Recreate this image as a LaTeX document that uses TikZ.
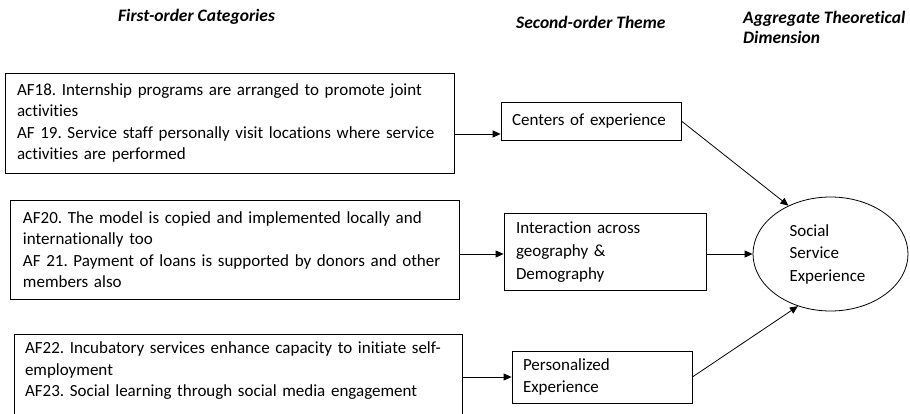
\documentclass[tikz,border=0pt]{standalone}
\usepackage{fontspec}
\setmainfont{Carlito}[Ligatures={NoCommon,NoContextual}]
\usetikzlibrary{arrows.meta,shapes.geometric}
\frenchspacing
\begin{document}
\begin{tikzpicture}[x=1pt,y=-1pt,
  box/.style={draw, line width=0.8pt, align=left, inner ysep=0pt,
    font=\fontsize{17}{21.5}\selectfont},
  hdr/.style={font=\fontsize{17.5}{20}\selectfont\bfseries\itshape, anchor=west, align=left, inner sep=0pt},
  arr/.style={-{Triangle[length=8pt,width=7pt]}, line width=0.8pt}]
\useasboundingbox (0,0) rectangle (910,414);

% headers
\node[hdr] (h1) at (118,17) {First-order Categories};
\node[hdr] (h2) at (516,22) {Second-order Theme};
\node[hdr] (h3) at (743,27) {Aggregate Theoretical\\Dimension};

% first-order boxes
\node[box, inner xsep=12pt, text width=425pt, minimum height=100pt] (b1) at (229.5,123)
 {AF18. Internship programs are arranged to promote joint\\activities\\AF 19. Service staff personally visit locations where service\\activities are performed};
\node[box, inner xsep=13pt, text width=423pt, minimum height=99pt] (b2) at (234.5,249.5)
 {AF20. The model is copied and implemented locally and\\internationally too\\AF 21. Payment of loans is supported by donors and other\\members also};
\node[box, inner xsep=11pt, text width=426pt, minimum height=92pt] (b3) at (238,380)
 {AF22. Incubatory services enhance capacity to initiate self-\\employment\\AF23. Social learning through social media engagement\\\mbox{}};

% second-order themes
\node[box, inner xsep=11pt, text width=158pt, minimum height=38pt] (c1) at (591,121)
 {Centers of experience};
\node[box, inner xsep=12pt, text width=178pt, minimum height=77pt,
  font=\fontsize{17}{23}\selectfont] (c2) at (605,252)
 {Interaction across\\geography \&\\Demography};
\node[box, inner xsep=11pt, text width=158pt, minimum height=52pt] (c3) at (602,377)
 {Personalized\\Experience};

% aggregate
\node[draw, ellipse, line width=0.8pt, inner sep=0pt, minimum width=155pt, minimum height=114pt,
  text width=82pt, align=left, font=\fontsize{17}{22.5}\selectfont] (e) at (830.5,254)
 {Social\\Service\\Experience};

% connectors
\coordinate (a1) at ([yshift=-11pt]b1.east);
\draw[arr] (a1) -- (a1 -| c1.west);
\coordinate (a2) at ([yshift=-4.5pt]b2.east);
\draw[arr] (a2) -- (a2 -| c2.west);
\draw[arr] (b3.east |- c3.west) -- (c3.west);
\draw[arr] (c2.east |- e.west) -- (e.west);
\draw[arr] (c1.east) -- (e.131);
\draw[arr] (c3.east) -- (e.238);
\end{tikzpicture}
\end{document}
